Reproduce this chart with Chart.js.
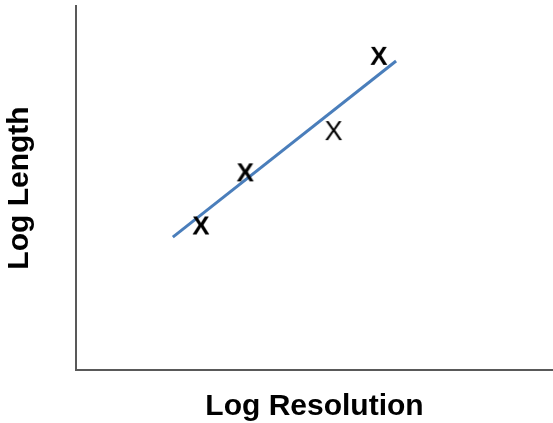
<!DOCTYPE html>
<html>
<head>
<meta charset="utf-8">
<script src="https://cdn.jsdelivr.net/npm/chart.js@4"></script>
<style>
  body { margin: 0; background: #fff; }
  canvas { display: block; }
</style>
</head>
<body>
<canvas id="chart" width="553" height="423"></canvas>
<script>
// fitted line (two end points)
const lineX = [2.03, 6.71];
const lineY = [3.65, 8.49];

// measured points, drawn as "X" glyphs
const boldX = [2.62, 3.55, 6.35];
const boldY = [3.97, 5.43, 8.63];
const lightX = [5.40];
const lightY = [6.59];

const xTitle = "Log Resolution";
const yTitle = "Log Length";

const fontFamily = '"Liberation Sans", Arial, sans-serif';

function glyph(weight, size) {
    const c = document.createElement("canvas");
    c.width = 32;
    c.height = 32;
    const g = c.getContext("2d");
    g.font = `${weight} ${size}px ${fontFamily}`;
    g.fillStyle = "#000";
    g.textAlign = "center";
    g.textBaseline = "alphabetic";
    g.fillText("X", 16, 16 + size * 0.716 / 2);
    return c;
}

const toPoints = (xs, ys) => xs.map((x, i) => ({ x: x, y: ys[i] }));

new Chart(document.getElementById("chart"), {
    type: "scatter",
    data: {
        datasets: [
            {
                data: toPoints(boldX, boldY),
                pointStyle: glyph("bold", 26),
                pointRadius: 12,
                order: 0
            },
            {
                data: toPoints(lightX, lightY),
                pointStyle: glyph("normal", 27),
                pointRadius: 12,
                order: 1
            },
            {
                data: toPoints(lineX, lineY),
                showLine: true,
                borderColor: "#4a7ebb",
                borderWidth: 3,
                pointRadius: 0,
                order: 2
            }
        ]
    },
    options: {
        responsive: false,
        animation: false,
        events: [],
        layout: { autoPadding: false, padding: { top: 6, left: 0, right: 0, bottom: 0 } },
        plugins: {
            legend: { display: false },
            tooltip: { enabled: false }
        },
        scales: {
            x: {
                min: 0, max: 10,
                ticks: { display: false },
                grid: { display: false, drawTicks: false },
                border: { display: true, color: "#595959", width: 2 },
                title: {
                    display: true,
                    text: xTitle,
                    color: "#000",
                    font: { family: fontFamily, size: 30, weight: "bold", lineHeight: 1 },
                    padding: { top: 21.5, bottom: 1.5 }
                }
            },
            y: {
                min: 0, max: 10,
                ticks: { display: false },
                grid: { display: false, drawTicks: false },
                border: { display: true, color: "#595959", width: 2 },
                title: {
                    display: true,
                    text: yTitle,
                    color: "#000",
                    font: { family: fontFamily, size: 30, weight: "bold", lineHeight: 1 },
                    padding: { top: 5, bottom: 41 }
                }
            }
        }
    }
});
</script>
</body>
</html>
